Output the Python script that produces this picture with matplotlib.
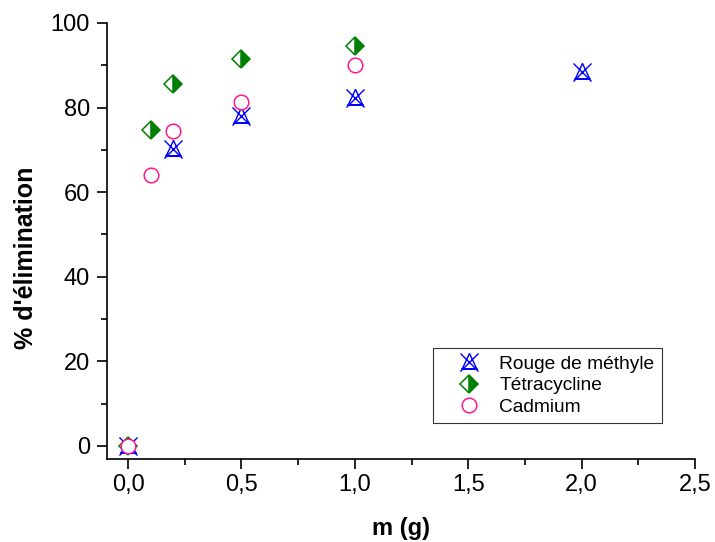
import numpy as np
import matplotlib
matplotlib.use("Agg")
import matplotlib.pyplot as plt
from matplotlib.path import Path
from matplotlib.ticker import MultipleLocator, FuncFormatter

plt.rcParams['font.family'] = ['Liberation Sans', 'DejaVu Sans']

# masse d'adsorbant (g) et pourcentages d'élimination
m_rouge = [0.0, 0.2, 0.5, 1.0, 2.0]
elim_rouge = [0.0, 70.2, 78.0, 82.2, 88.3]

m_tetra = [0.0, 0.1, 0.2, 0.5, 1.0]
elim_tetra = [0.0, 74.8, 85.5, 91.6, 94.5]

m_cd = [0.0, 0.1, 0.2, 0.5, 1.0]
elim_cd = [0.0, 64.0, 74.4, 81.4, 90.1]

# marqueur triangle barré d'une croix
verts = [(-1, 1), (1, -1), (-1, -1), (1, 1),
         (0, 1), (-0.8, -0.7), (0.8, -0.7), (0, 1),
         (-0.9, -0.7), (0.9, -0.7)]
codes = [Path.MOVETO, Path.LINETO, Path.MOVETO, Path.LINETO,
         Path.MOVETO, Path.LINETO, Path.LINETO, Path.LINETO,
         Path.MOVETO, Path.LINETO]
tri_x = Path(verts, codes)

fig = plt.figure(figsize=(7.15, 5.42), dpi=100)
ax = fig.add_axes([0.149, 0.1531, 0.823, 0.8045])

ax.plot(m_rouge, elim_rouge, linestyle='none', marker=tri_x, markersize=13,
        markerfacecolor='none', markeredgecolor='#0000ff', markeredgewidth=1.0,
        label='Rouge de méthyle')
ax.plot(m_tetra, elim_tetra, linestyle='none', marker='D', markersize=9.5,
        fillstyle='right', markerfacecolor='#008000', markerfacecoloralt='white',
        markeredgecolor='#008000', markeredgewidth=1.1, label='Tétracycline')
ax.plot(m_cd, elim_cd, linestyle='none', marker='o', markersize=10.5,
        markerfacecolor='white', markeredgecolor='#ff1a8c', markeredgewidth=1.1,
        label='Cadmium')

ax.set_xlim(-0.095, 2.5)
ax.set_ylim(-3.1, 100)
ax.xaxis.set_major_locator(MultipleLocator(0.5))
ax.xaxis.set_minor_locator(MultipleLocator(0.25))
ax.yaxis.set_major_locator(MultipleLocator(20))
ax.yaxis.set_minor_locator(MultipleLocator(10))
ax.xaxis.set_major_formatter(FuncFormatter(lambda v, p: f"{v:.1f}".replace('.', ',')))
ax.yaxis.set_major_formatter(FuncFormatter(lambda v, p: f"{v:.0f}"))

for side in ['top', 'right']:
    ax.spines[side].set_visible(False)
for side in ['left', 'bottom']:
    ax.spines[side].set_linewidth(1.2)

ax.tick_params(which='major', direction='out', length=7, width=1.2, labelsize=17)
ax.tick_params(which='minor', direction='out', length=4, width=1.2)
ax.tick_params(axis='x', which='major', pad=3.5)
ax.tick_params(axis='y', which='major', pad=5)

ax.set_xlabel('m (g)', fontsize=17, fontweight='bold')
ax.set_ylabel("% d'élimination", fontsize=18, fontweight='bold')
ax.xaxis.set_label_coords(0.5, -0.134)
ax.yaxis.set_label_coords(-0.116, 0.461)

leg = ax.legend(loc='upper left', bbox_to_anchor=(0.606, 0.358),
                bbox_transform=fig.transFigure, fontsize=13.8, frameon=True,
                fancybox=False, edgecolor='black', borderpad=0.4,
                borderaxespad=0, labelspacing=0.2, handletextpad=0.15,
                handlelength=2.9)
leg.get_frame().set_linewidth(0.8)

fig.savefig('out.png', dpi=100)
